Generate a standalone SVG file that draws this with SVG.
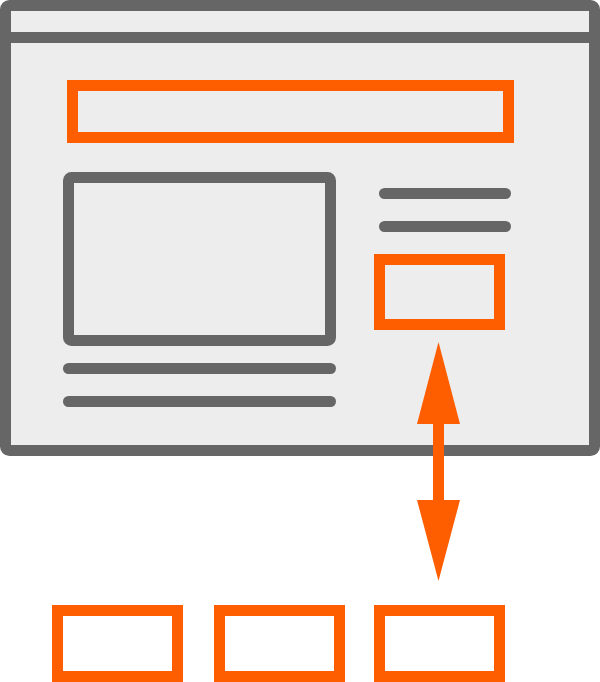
<svg xmlns="http://www.w3.org/2000/svg" width="600" height="682" viewBox="0 0 600 682">
  <style>
    .frame { fill: #ededed; stroke: #666666; stroke-width: 11; stroke-linejoin: round; }
    .gray { fill: none; stroke: #666666; stroke-width: 11; stroke-linejoin: round; }
    .line { fill: none; stroke: #666666; stroke-width: 11; stroke-linecap: round; }
    .box { fill: none; stroke: #ff5e00; stroke-width: 11; }
    .arrow { fill: #ff5e00; stroke: none; }
  </style>

  <!-- browser window -->
  <g id="window">
    <rect class="frame" x="5.5" y="5.5" width="589" height="445" rx="4"/>
    <line class="gray" x1="5.5" y1="37.5" x2="594.5" y2="37.5"/>
  </g>

  <!-- page header banner -->
  <g id="header">
    <rect class="box" x="72.5" y="85.5" width="436" height="52"/>
  </g>

  <!-- media block with caption lines -->
  <g id="media">
    <rect class="gray" x="68.5" y="177.5" width="262" height="163" rx="3"/>
    <line class="line" x1="68.5" y1="368.5" x2="330.5" y2="368.5"/>
    <line class="line" x1="68.5" y1="401.5" x2="330.5" y2="401.5"/>
  </g>

  <!-- sidebar text lines -->
  <g id="sidebar-text">
    <line class="line" x1="384.5" y1="193.5" x2="505.5" y2="193.5"/>
    <line class="line" x1="384.5" y1="226.5" x2="505.5" y2="226.5"/>
  </g>

  <!-- sidebar slot -->
  <g id="slot">
    <rect class="box" x="379.5" y="259.5" width="120" height="65"/>
  </g>

  <!-- candidate blocks -->
  <g id="block-1">
    <rect class="box" x="57.5" y="610.5" width="120" height="66"/>
  </g>
  <g id="block-2">
    <rect class="box" x="219.5" y="610.5" width="120" height="66"/>
  </g>
  <g id="block-3">
    <rect class="box" x="379.5" y="610.5" width="120" height="66"/>
  </g>

  <!-- two-way arrow between slot and blocks -->
  <g id="connectors">
    <rect class="arrow" x="433" y="422" width="11" height="80"/>
    <polygon class="arrow" points="438.5,342 417,424 460,424"/>
    <polygon class="arrow" points="417,500 460,500 438.5,581"/>
  </g>
</svg>
